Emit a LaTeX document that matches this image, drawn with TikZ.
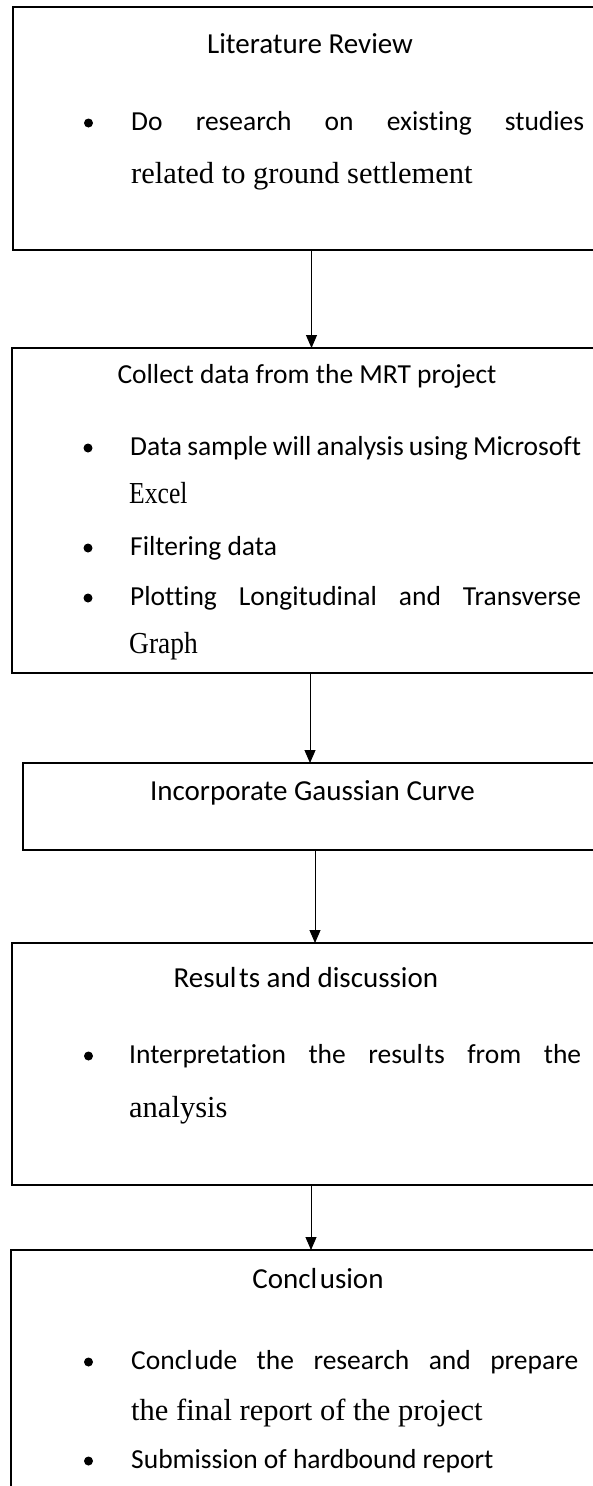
\documentclass[tikz,border=0pt]{standalone}
\usepackage{fontspec}
\setmainfont{Liberation Serif}
\newfontfamily\calib[Ligatures=NoCommon]{Carlito}
\usepackage{graphicx}
\usetikzlibrary{arrows.meta}
\begin{document}
\begin{tikzpicture}[x=1pt,y=-1pt,
  stage/.style={draw=black, line width=2pt, anchor=north west, inner sep=0pt, outer sep=0pt},
  arr/.style={line width=1pt, -{Triangle[width=11pt,length=13pt]}},
  ttl/.style={anchor=base, inner sep=0pt, font=\calib\fontsize{29}{34}\selectfont},
  body/.style={anchor=base west, inner sep=0pt, font=\calib\fontsize{27.5}{33}\selectfont},
  tms/.style={anchor=base west, inner sep=0pt, font=\fontsize{30.5}{36}\selectfont},
  dot/.style={circle, fill=black, inner sep=0pt, minimum size=9pt},
]
\useasboundingbox (0,0) rectangle (593,1486);
\begin{scope}
\clip (0,0) rectangle (593,1486);
% boxes
\node[stage, minimum width=584pt, minimum height=243pt] (b1) at (13,7) {};
\node[stage, minimum width=585pt, minimum height=325pt] (b2) at (12,348) {};
\node[stage, minimum width=575pt, minimum height=87pt] (b3) at (22.5,763) {};
\node[stage, minimum width=585pt, minimum height=242pt] (b4) at (12,943) {};
\node[stage, minimum width=586pt, minimum height=260pt] (b5) at (11,1250) {};
% arrow columns
\coordinate (x1) at (311.5,0);
\coordinate (x2) at (310,0);
\coordinate (x3) at (315,0);
\coordinate (x4) at (311,0);
\draw[arr] (b1.south -| x1) -- (b2.north -| x1);
\draw[arr] (b2.south -| x2) -- (b3.north -| x2);
\draw[arr] (b3.south -| x3) -- (b4.north -| x3);
\draw[arr] (b4.south -| x4) -- (b5.north -| x4);
% box 1
\node[ttl] (t1) at (310,53) {Literature Review};
\node[dot] (d11) at (88.5,123) {};
\node[body] (l11) at (131,130) {\makebox[453pt][s]{Do research on existing studies}};
\node[tms] (l12) at (131,183) {related to ground settlement};
% box 2
\node[ttl, font=\calib\fontsize{27.5}{33}\selectfont] (t2) at (307,383) {Collect data from the MRT project};
\node[dot] (d21) at (88,448) {};
\node[body] (l21) at (130,455) {\makebox[451pt][s]{Data sample will analysis using Microsoft}};
\node[tms] (l22) at (129,503) {\scalebox{0.84}[1]{Excel}};
\node[dot] (d22) at (88,548) {};
\node[body] (l23) at (130,555) {Filtering data};
\node[dot] (d23) at (88,598) {};
\node[body] (l24) at (130,605) {\makebox[451pt][s]{Plotting Longitudinal and Transverse}};
\node[tms] (l25) at (129,653) {\scalebox{0.9}[1]{Graph}};
% box 3
\node[ttl] (t3) at (312.5,800) {Incorporate Gaussian Curve};
% box 4
\node[ttl] (t4) at (306,987) {Resul\kern2.5pt ts and discussion};
\node[dot] (d41) at (88.5,1056) {};
\node[body] (l41) at (129,1063) {\makebox[452pt][s]{Interpretation the resul\kern2pt ts from the}};
\node[tms] (l42) at (129,1117) {analysis};
% box 5
\node[ttl] (t5) at (318,1288) {Concl\kern2.5pt usion};
\node[dot] (d51) at (88.5,1362) {};
\node[body] (l51) at (131,1369) {\makebox[447pt][s]{Concl\kern2pt ude the research and prepare}};
\node[tms] (l52) at (131,1420) {the final report of the project};
\node[dot] (d52) at (88.5,1461) {};
\node[body] (l53) at (131,1468) {Submission of hardbound report};
\end{scope}
\end{tikzpicture}
\end{document}
